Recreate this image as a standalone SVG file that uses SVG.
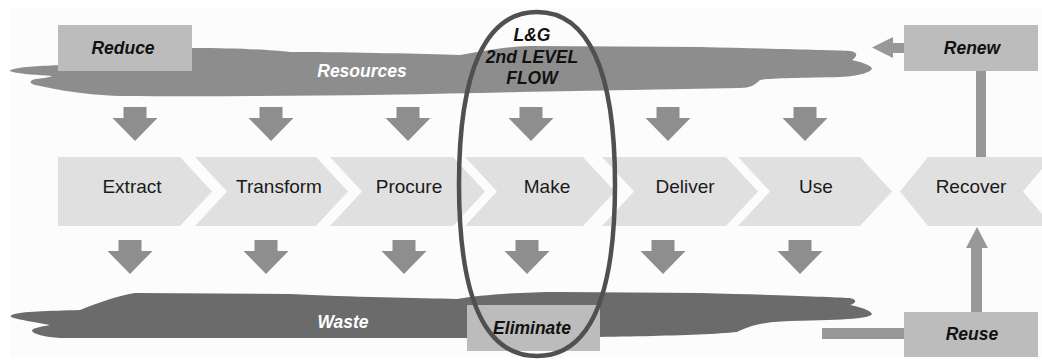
<svg xmlns="http://www.w3.org/2000/svg" width="1042" height="362" viewBox="0 0 1042 362">
<style>
.chev{fill:#e0e0e0}
.ctext{font-family:"Liberation Sans",Arial,sans-serif;font-size:19px;fill:#1a1a1a;text-anchor:middle}
.box{fill:#bcbcbc}
.btext{font-family:"Liberation Sans",Arial,sans-serif;font-size:17.5px;font-weight:bold;font-style:italic;fill:#111;text-anchor:middle}
.wtext{font-family:"Liberation Sans",Arial,sans-serif;font-size:17.5px;font-weight:bold;font-style:italic;fill:#fff;text-anchor:middle}
.arr{fill:#8e8e8e}
.conn{fill:#989898}
</style>
<defs>
<path id="down" d="M-11.5,0 h23 v11 h11 l-22.5,23 l-22.5,-23 h11 z"/>
</defs>
<rect x="0" y="0" width="1042" height="362" fill="#ffffff"/>
<rect x="10" y="8" width="1032" height="350" fill="#fcfcfc"/>

<g id="resources">
<path fill="#8d8d8d" d="M11,70 C20,66 45,66 60,65 L60,48 L192,48 C240,48 270,50 290,52 C360,52 420,54 460,55 C480,52 500,47 530,46 L700,47 C780,49 830,50 850,51 C858,52 858,56 852,60 C860,62 868,64 872,68 C872,72 860,76 840,77 C800,78 770,78 760,80 C755,85 750,88 740,88 L520,92 C400,95 250,97 120,96 C80,95 50,88 35,85 C28,83 30,80 36,79 C45,78 50,77 52,76 C40,75 20,74 13,72 C9,71 9,70 11,70 Z"/>
<text class="wtext" x="362" y="77">Resources</text>
</g>

<g id="waste">
<path fill="#6b6b6b" d="M12,315 C20,311 50,311 80,310 C100,302 120,295 135,293 L290,294 C350,297 420,298 457,299 C480,295 520,292 560,292 L700,293 C780,295 830,297 850,298 C858,300 856,303 850,305 C860,307 870,310 872,314 C870,318 850,320 790,321 C760,322 750,326 737,332 C700,336 600,337 520,338 L60,338 C45,337 33,334 32,331 C32,328 40,327 50,325 C35,322 20,320 14,318 C10,317 10,316 12,315 Z"/>
<text class="wtext" x="343" y="328">Waste</text>
</g>

<g id="reduce">
<rect class="box" x="58" y="25" width="134" height="46"/>
<text class="btext" x="123" y="54">Reduce</text>
</g>

<g id="renew">
<rect class="box" x="904" y="25" width="134" height="46"/>
<text class="btext" x="972" y="54">Renew</text>
</g>

<g id="reuse">
<rect class="box" x="904" y="312" width="134" height="45"/>
<text class="btext" x="972" y="340">Reuse</text>
</g>

<g id="eliminate">
<rect class="box" x="467" y="305" width="133" height="46"/>
<text class="btext" x="532" y="334">Eliminate</text>
</g>

<g id="extract">
<polygon class="chev" points="58,157 180,157 212,191.5 180,226 58,226"/>
<text class="ctext" x="132" y="193">Extract</text>
</g>
<g id="transform">
<polygon class="chev" points="195,157 316,157 348,191.5 316,226 195,226 227,191.5"/>
<text class="ctext" x="279" y="193">Transform</text>
</g>
<g id="procure">
<polygon class="chev" points="330,157 453,157 485,191.5 453,226 330,226 362,191.5"/>
<text class="ctext" x="409" y="193">Procure</text>
</g>
<g id="make">
<polygon class="chev" points="465,157 583,157 615,191.5 583,226 465,226 497,191.5"/>
<text class="ctext" x="547" y="193">Make</text>
</g>
<g id="deliver">
<polygon class="chev" points="602,157 726,157 758,191.5 726,226 602,226 634,191.5"/>
<text class="ctext" x="685" y="193">Deliver</text>
</g>
<g id="use">
<polygon class="chev" points="738,157 860,157 892,191.5 860,226 738,226 770,191.5"/>
<text class="ctext" x="816" y="193">Use</text>
</g>
<g id="recover">
<polygon class="chev" points="900,191.5 928,157 1052,157 1023,191.5 1052,226 928,226"/>
<text class="ctext" x="971" y="193">Recover</text>
</g>

<g id="connectors">
<use href="#down" class="arr" x="135" y="107"/>
<use href="#down" class="arr" x="271" y="107"/>
<use href="#down" class="arr" x="408" y="107"/>
<use href="#down" class="arr" x="531" y="107"/>
<use href="#down" class="arr" x="668" y="107"/>
<use href="#down" class="arr" x="805" y="107"/>
<use href="#down" class="arr" x="130" y="240"/>
<use href="#down" class="arr" x="266" y="240"/>
<use href="#down" class="arr" x="404" y="240"/>
<use href="#down" class="arr" x="527" y="240"/>
<use href="#down" class="arr" x="663" y="240"/>
<use href="#down" class="arr" x="800" y="240"/>
<path class="conn" d="M904,43 V53 H893 V58 L872,47.5 L893,37 V43 Z"/>
<rect class="conn" x="976" y="71" width="10" height="86"/>
<path class="conn" d="M971,312 V248 H966 L977,227 L988,248 H982 V312 Z"/>
<rect class="conn" x="822" y="328" width="82" height="11"/>
</g>

<g id="lg-flow">
<path d="M537,12 C588,12 615,70 615,184 C615,300 588,356 537,356 C486,356 459,300 459,184 C459,70 486,12 537,12 Z" fill="none" stroke="#505050" stroke-width="4.5"/>
<text class="btext" x="532" y="41">L&amp;G</text>
<text class="btext" x="532" y="63">2nd LEVEL</text>
<text class="btext" x="532" y="84">FLOW</text>
</g>
</svg>
